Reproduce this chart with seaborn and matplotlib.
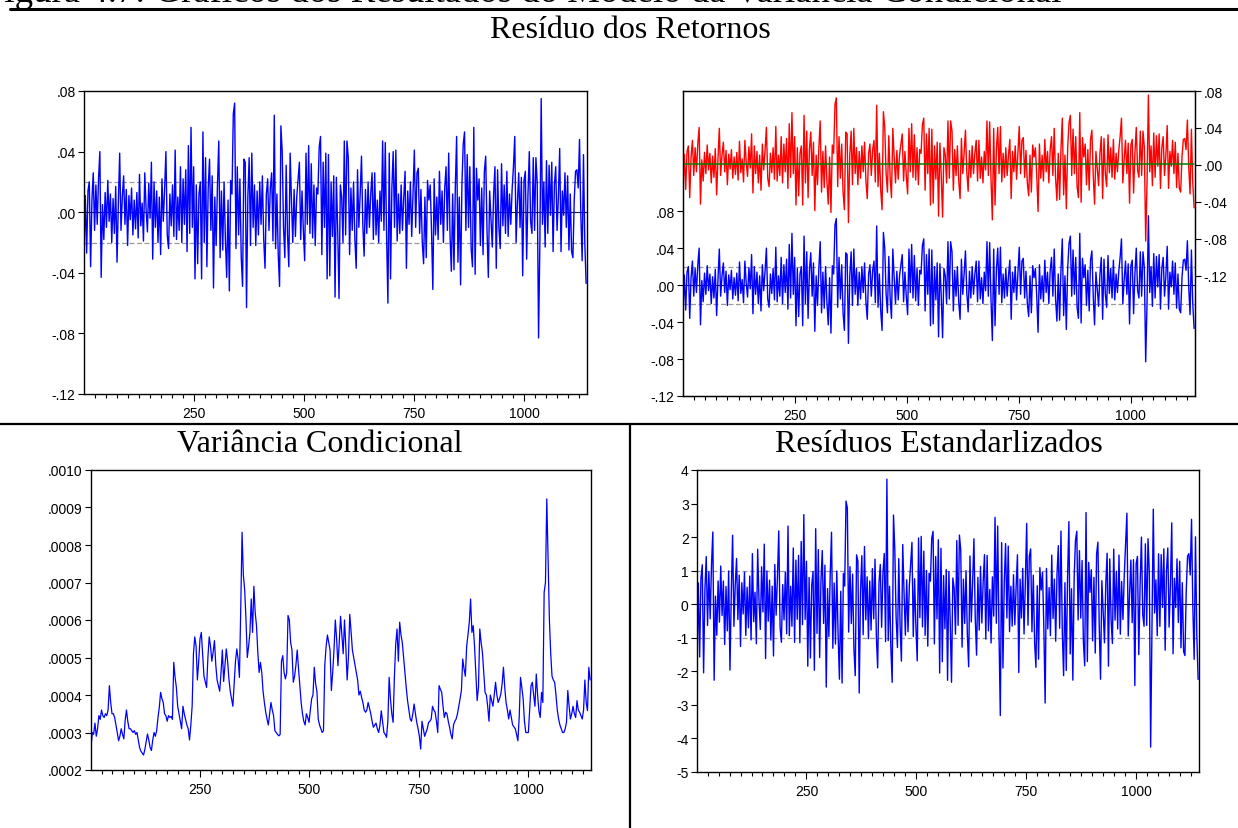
import numpy as np
import matplotlib
matplotlib.use("Agg")
import matplotlib.pyplot as plt
from matplotlib.lines import Line2D
from matplotlib.ticker import FuncFormatter, MultipleLocator, FixedLocator
import seaborn as sns

obs = np.arange(1, 1142, 3)

# residuals of the returns (mean equation)
resid = [
    -0.028, 0.011, -0.027, 0.014, 0.020, -0.036, 0.008, 0.026, -0.012, 0.018,
    -0.008, 0.022, 0.040, -0.043, 0.005, -0.018, 0.013, -0.010, 0.021, -0.006,
    0.012, -0.020, 0.009, -0.014, 0.017, -0.033, 0.006, 0.039, -0.012, 0.010,
    0.024, -0.008, 0.015, -0.022, 0.011, -0.005, 0.016, -0.015, 0.008, -0.011,
    0.013, -0.017, 0.025, -0.009, 0.006, -0.019, 0.026, 0.002, -0.013, 0.019,
    -0.004, 0.033, -0.031, 0.020, -0.010, 0.014, -0.020, 0.010, -0.028, 0.022,
    -0.006, 0.015, 0.040, -0.015, -0.024, 0.012, -0.009, 0.018, -0.016, 0.041,
    -0.018, 0.010, -0.012, 0.030, -0.020, 0.022, -0.008, 0.028, -0.026, 0.044,
    -0.014, 0.056, -0.010, 0.030, -0.044, 0.018, -0.034, 0.012, 0.020, -0.044,
    0.053, -0.020, 0.036, -0.036, 0.016, 0.035, -0.012, 0.024, -0.050, 0.010,
    -0.022, 0.018, 0.047, -0.030, 0.014, -0.025, 0.020, -0.018, -0.043, 0.008,
    -0.052, 0.021, 0.012, 0.065, 0.072, -0.024, 0.030, -0.015, 0.022, -0.030,
    -0.049, 0.035, 0.033, -0.063, 0.010, 0.036, -0.022, 0.039, -0.010, 0.018,
    -0.022, 0.014, -0.015, 0.020, -0.008, 0.024, -0.018, -0.037, 0.012, 0.022,
    -0.012, 0.016, 0.026, -0.019, 0.064, -0.024, 0.012, -0.028, -0.049, 0.057,
    0.040, -0.010, -0.030, 0.031, -0.014, -0.036, 0.039, 0.008, -0.020, 0.015,
    -0.016, 0.010, 0.022, 0.033, -0.018, 0.014, -0.012, -0.032, 0.039, -0.008,
    0.044, -0.014, 0.032, -0.017, 0.018, -0.022, 0.016, 0.012, 0.043, 0.050,
    -0.028, 0.033, -0.010, 0.039, -0.044, 0.038, -0.042, 0.020, -0.016, 0.024,
    -0.056, 0.023, -0.012, -0.057, 0.018, 0.010, -0.020, 0.047, -0.015, 0.047,
    0.036, -0.028, 0.016, -0.012, 0.020, -0.018, -0.037, 0.028, -0.010, 0.012,
    0.037, -0.008, -0.029, 0.015, -0.014, 0.020, -0.010, 0.012, 0.026, -0.018,
    0.026, -0.015, 0.008, -0.020, 0.014, -0.006, 0.047, -0.012, 0.046, -0.016,
    -0.060, 0.039, -0.044, 0.016, 0.040, -0.010, 0.041, -0.019, 0.012, -0.014,
    0.018, -0.012, 0.010, 0.027, -0.037, 0.014, -0.008, 0.020, -0.016, 0.012,
    0.041, -0.010, 0.026, 0.029, -0.014, 0.015, -0.020, -0.034, 0.010, -0.030,
    0.021, 0.008, 0.018, -0.012, -0.051, 0.022, -0.015, 0.010, -0.018, 0.027,
    -0.008, 0.014, -0.020, 0.016, 0.030, -0.012, 0.039, -0.015, -0.039, 0.012,
    -0.038, 0.016, 0.050, -0.033, 0.010, -0.048, 0.018, 0.045, 0.053, -0.012,
    0.038, -0.010, 0.030, -0.024, -0.036, 0.056, -0.041, 0.029, 0.008, 0.022,
    -0.022, 0.016, -0.028, 0.027, 0.037, -0.012, -0.043, 0.014, -0.005, -0.023,
    0.012, 0.030, -0.037, 0.028, -0.010, -0.024, 0.032, -0.009, 0.018, -0.014,
    0.027, -0.016, 0.012, -0.008, 0.015, 0.030, 0.050, -0.020, 0.006, 0.026,
    -0.010, 0.023, -0.042, 0.021, 0.027, -0.031, 0.012, 0.040, -0.006, -0.014,
    0.036, -0.012, 0.036, 0.019, -0.083, -0.020, 0.075, -0.008, 0.020, -0.023,
    0.034, -0.014, 0.031, -0.002, 0.033, -0.026, 0.018, 0.030, -0.012, 0.010,
    0.042, -0.026, 0.014, -0.002, 0.026, -0.010, 0.024, -0.025, 0.012, -0.026,
    -0.030, 0.008, 0.027, 0.028, 0.016, 0.048, -0.002, -0.032, 0.038, -0.020,
    -0.047,
]

# conditional variance, in units of 1e-4
cond_var_1e4 = [
    2.6, 3.0, 2.95, 3.25, 2.9, 3.1, 3.45, 3.35, 3.6, 3.45,
    3.4, 3.5, 3.45, 3.6, 4.25, 3.8, 3.5, 3.5, 3.4, 3.2,
    3.0, 2.78, 2.9, 3.1, 2.95, 2.83, 3.32, 3.6, 3.3, 3.1,
    3.1, 3.05, 3.0, 3.05, 2.95, 3.0, 2.8, 2.6, 2.5, 2.45,
    2.4, 2.55, 2.75, 2.96, 2.8, 2.6, 2.52, 2.8, 3.0, 2.9,
    3.05, 3.4, 3.67, 4.07, 3.9, 3.8, 3.5, 3.45, 3.3, 3.45,
    3.4, 3.43, 3.35, 4.87, 4.47, 4.2, 3.7, 3.5, 3.3, 3.1,
    3.7, 3.5, 3.35, 3.2, 3.1, 2.8, 3.2, 3.7, 5.1, 5.55,
    5.3, 4.4, 4.9, 5.5, 5.67, 5.1, 4.5, 4.35, 4.2, 5.0,
    5.55, 5.3, 4.9, 5.15, 5.45, 4.8, 4.4, 4.25, 4.1, 4.6,
    5.2, 4.36, 4.8, 5.23, 4.9, 4.43, 4.1, 3.9, 3.7, 4.3,
    4.9, 5.23, 4.96, 4.47, 6.3, 8.34, 7.2, 6.8, 6.0, 5.0,
    5.3, 5.67, 6.56, 5.67, 6.9, 6.2, 5.85, 5.14, 4.6, 4.87,
    4.6, 4.1, 3.8, 3.55, 3.36, 3.2, 3.5, 3.8, 3.6, 3.45,
    3.05, 3.0, 2.95, 2.91, 2.95, 4.9, 5.05, 4.6, 4.43, 4.6,
    6.12, 6.0, 5.4, 5.2, 4.34, 4.5, 4.8, 5.2, 4.7, 4.25,
    3.8, 3.5, 3.3, 3.2, 3.5, 3.4, 3.27, 3.6, 3.9, 4.0,
    4.74, 4.3, 4.1, 3.36, 3.2, 3.1, 3.0, 3.05, 4.8, 5.3,
    5.6, 5.4, 5.2, 4.12, 4.6, 5.2, 6.0, 5.5, 4.78, 5.4,
    6.1, 5.6, 5.1, 6.0, 5.3, 4.4, 5.0, 6.15, 5.7, 5.2,
    5.0, 4.8, 4.6, 4.4, 4.0, 4.1, 3.94, 3.8, 3.6, 3.54,
    3.6, 3.8, 3.65, 3.5, 3.3, 3.14, 3.2, 3.25, 3.1, 3.0,
    3.2, 3.58, 3.3, 3.0, 2.95, 2.87, 3.3, 4.47, 3.9, 3.5,
    3.27, 4.5, 5.36, 5.76, 4.9, 5.94, 5.6, 5.4, 5.0, 4.6,
    4.2, 3.85, 3.6, 3.36, 3.3, 3.5, 3.76, 3.5, 3.27, 3.1,
    2.9, 2.56, 3.3, 3.1, 2.9, 3.0, 3.1, 3.27, 3.3, 3.36,
    3.7, 3.6, 3.54, 3.3, 3.0, 4.25, 4.15, 4.07, 3.7, 3.4,
    3.54, 3.5, 3.3, 3.14, 2.95, 2.83, 3.2, 3.3, 3.36, 3.5,
    3.7, 3.9, 4.12, 4.96, 4.7, 4.5, 5.3, 5.6, 5.94, 6.56,
    5.67, 5.85, 5.3, 4.6, 3.85, 4.2, 5.76, 5.4, 5.14, 4.6,
    4.07, 4.0, 3.7, 3.3, 4.0, 3.85, 3.7, 4.0, 4.34, 4.0,
    3.8, 3.9, 4.02, 4.3, 4.74, 4.2, 3.8, 3.6, 3.36, 3.6,
    3.4, 3.2, 3.15, 3.1, 2.95, 2.78, 3.4, 4.47, 4.2, 3.9,
    3.3, 3.0, 3.0, 3.0, 3.6, 4.25, 4.34, 4.0, 3.7, 4.56,
    4.0, 3.58, 3.4, 4.07, 3.8, 6.74, 7.0, 9.23, 7.6, 6.0,
    5.1, 4.5, 4.4, 4.34, 4.0, 3.6, 3.36, 3.2, 3.1, 3.0,
    3.0, 3.1, 3.27, 4.12, 3.7, 3.36, 3.5, 3.7, 3.5, 3.4,
    3.85, 3.6, 3.54, 3.45, 3.36, 3.6, 4.4, 3.8, 3.58, 4.74,
    4.4,
]

# fitted value of the mean equation (constant)
fitted_mean = 0.0006

x_major = [250, 500, 750, 1000]
resid_band = 0.02
caption = "Figura 4.7: Gráficos dos Resultados do Modelo da Variância Condicional"
titles = ["Resíduo dos Retornos", "Variância Condicional", "Resíduos Estandarlizados"]

resid = np.array(resid)
cond_var = np.array(cond_var_1e4) * 1e-4
std_resid = resid / np.sqrt(cond_var)
actual = resid + fitted_mean
fitted = np.full(len(obs), fitted_mean)

sns.set_style("ticks")
plt.rcParams["font.family"] = ["Liberation Sans", "DejaVu Sans"]
plt.rcParams["font.size"] = 10
for k in ("text.color", "axes.labelcolor", "xtick.color", "ytick.color", "axes.edgecolor"):
    plt.rcParams[k] = "black"

BLUE = "#0000ff"
W, H = 1238, 829
fig = plt.figure(figsize=(W / 100, H / 100), dpi=100)


def box(l, t, r, b):
    return [l / W, 1 - b / H, (r - l) / W, (b - t) / H]


def dot_fmt(dec):
    def f(v, pos):
        s = f"{v:.{dec}f}"
        return s.replace("0.", ".", 1)
    return FuncFormatter(f)


def style_axis(ax):
    ax.set_xlim(1, 1143)
    ax.xaxis.set_major_locator(FixedLocator(x_major))
    ax.xaxis.set_minor_locator(MultipleLocator(25))
    ax.tick_params(axis="x", which="major", length=5, width=0.8, pad=4, labelsize=10)
    ax.tick_params(axis="x", which="minor", length=3, width=0.8)
    ax.tick_params(axis="y", length=4, width=0.8, pad=2, labelsize=10)
    for s in ax.spines.values():
        s.set_visible(True)
        s.set_linewidth(1.0)
        s.set_color("black")
    ax.set(xlabel="", ylabel="")


def ref_lines(ax, band):
    ax.axhline(0, color="#202020", lw=0.8, zorder=1)
    for v in (band, -band):
        ax.axhline(v, color="#9a9a9a", lw=0.9, ls=(0, (4, 2)), zorder=1)


# top left: residuals
ax1 = fig.add_axes(box(84, 92, 587, 395))
ref_lines(ax1, resid_band)
sns.lineplot(x=obs, y=resid, ax=ax1, color=BLUE, linewidth=1.0, estimator=None)
style_axis(ax1)
ax1.set_ylim(-0.12, 0.08)
ax1.yaxis.set_major_locator(FixedLocator([-0.12, -0.08, -0.04, 0.0, 0.04, 0.08]))
ax1.yaxis.set_major_formatter(dot_fmt(2))

# top right: actual / fitted / residual
ax2 = fig.add_axes(box(683, 92, 1195, 397))
ref_lines(ax2, resid_band)
sns.lineplot(x=obs, y=resid, ax=ax2, color=BLUE, linewidth=1.0, estimator=None)
style_axis(ax2)
ax2.set_ylim(-0.12, 0.21)
ax2.yaxis.set_major_locator(FixedLocator([-0.12, -0.08, -0.04, 0.0, 0.04, 0.08]))
ax2.yaxis.set_major_formatter(dot_fmt(2))
ax2r = ax2.twinx()
sns.lineplot(x=obs, y=actual, ax=ax2r, color="#ff0000", linewidth=1.0, estimator=None)
sns.lineplot(x=obs, y=fitted, ax=ax2r, color="#008000", linewidth=1.1, estimator=None)
ax2r.set_ylim(-0.25, 0.08)
ax2r.yaxis.set_major_locator(FixedLocator([-0.12, -0.08, -0.04, 0.0, 0.04, 0.08]))
ax2r.yaxis.set_major_formatter(dot_fmt(2))
ax2r.tick_params(axis="y", length=4, width=0.8, pad=2, labelsize=10)
ax2r.set(ylabel="")

# bottom left: conditional variance
ax3 = fig.add_axes(box(91, 471, 591, 771))
sns.lineplot(x=obs, y=cond_var, ax=ax3, color=BLUE, linewidth=0.9, estimator=None)
style_axis(ax3)
ax3.set_ylim(0.0002, 0.0010)
ax3.yaxis.set_major_locator(MultipleLocator(0.0001))
ax3.yaxis.set_major_formatter(dot_fmt(4))

# bottom right: standardized residuals
ax4 = fig.add_axes(box(697, 471, 1199, 773))
ref_lines(ax4, 1)
sns.lineplot(x=obs, y=std_resid, ax=ax4, color=BLUE, linewidth=1.0, estimator=None)
style_axis(ax4)
ax4.set_ylim(-5, 4)
ax4.yaxis.set_major_locator(MultipleLocator(1))
ax4.yaxis.set_major_formatter(FuncFormatter(lambda v, p: f"{v:.0f}"))

# page decorations: rules and titles
serif = "Liberation Serif"
fig.text(-16 / W, 1 - 2 / H, caption, family=serif, fontsize=26.5, va="baseline", ha="left")
fig.add_artist(Line2D([10 / W, 1], [1 - 10 / H] * 2, color="black", lw=2.2))
fig.add_artist(Line2D([0, 1], [1 - 425 / H] * 2, color="black", lw=1.6))
fig.add_artist(Line2D([630 / W] * 2, [0, 1 - 425 / H], color="black", lw=1.6))
fig.text(630 / W, 1 - 30 / H, titles[0], family=serif, fontsize=23, ha="center", va="center")
fig.text(320 / W, 1 - 445 / H, titles[1], family=serif, fontsize=23, ha="center", va="center")
fig.text(939 / W, 1 - 445 / H, titles[2], family=serif, fontsize=23, ha="center", va="center")

fig.savefig("out.png", dpi=100)
